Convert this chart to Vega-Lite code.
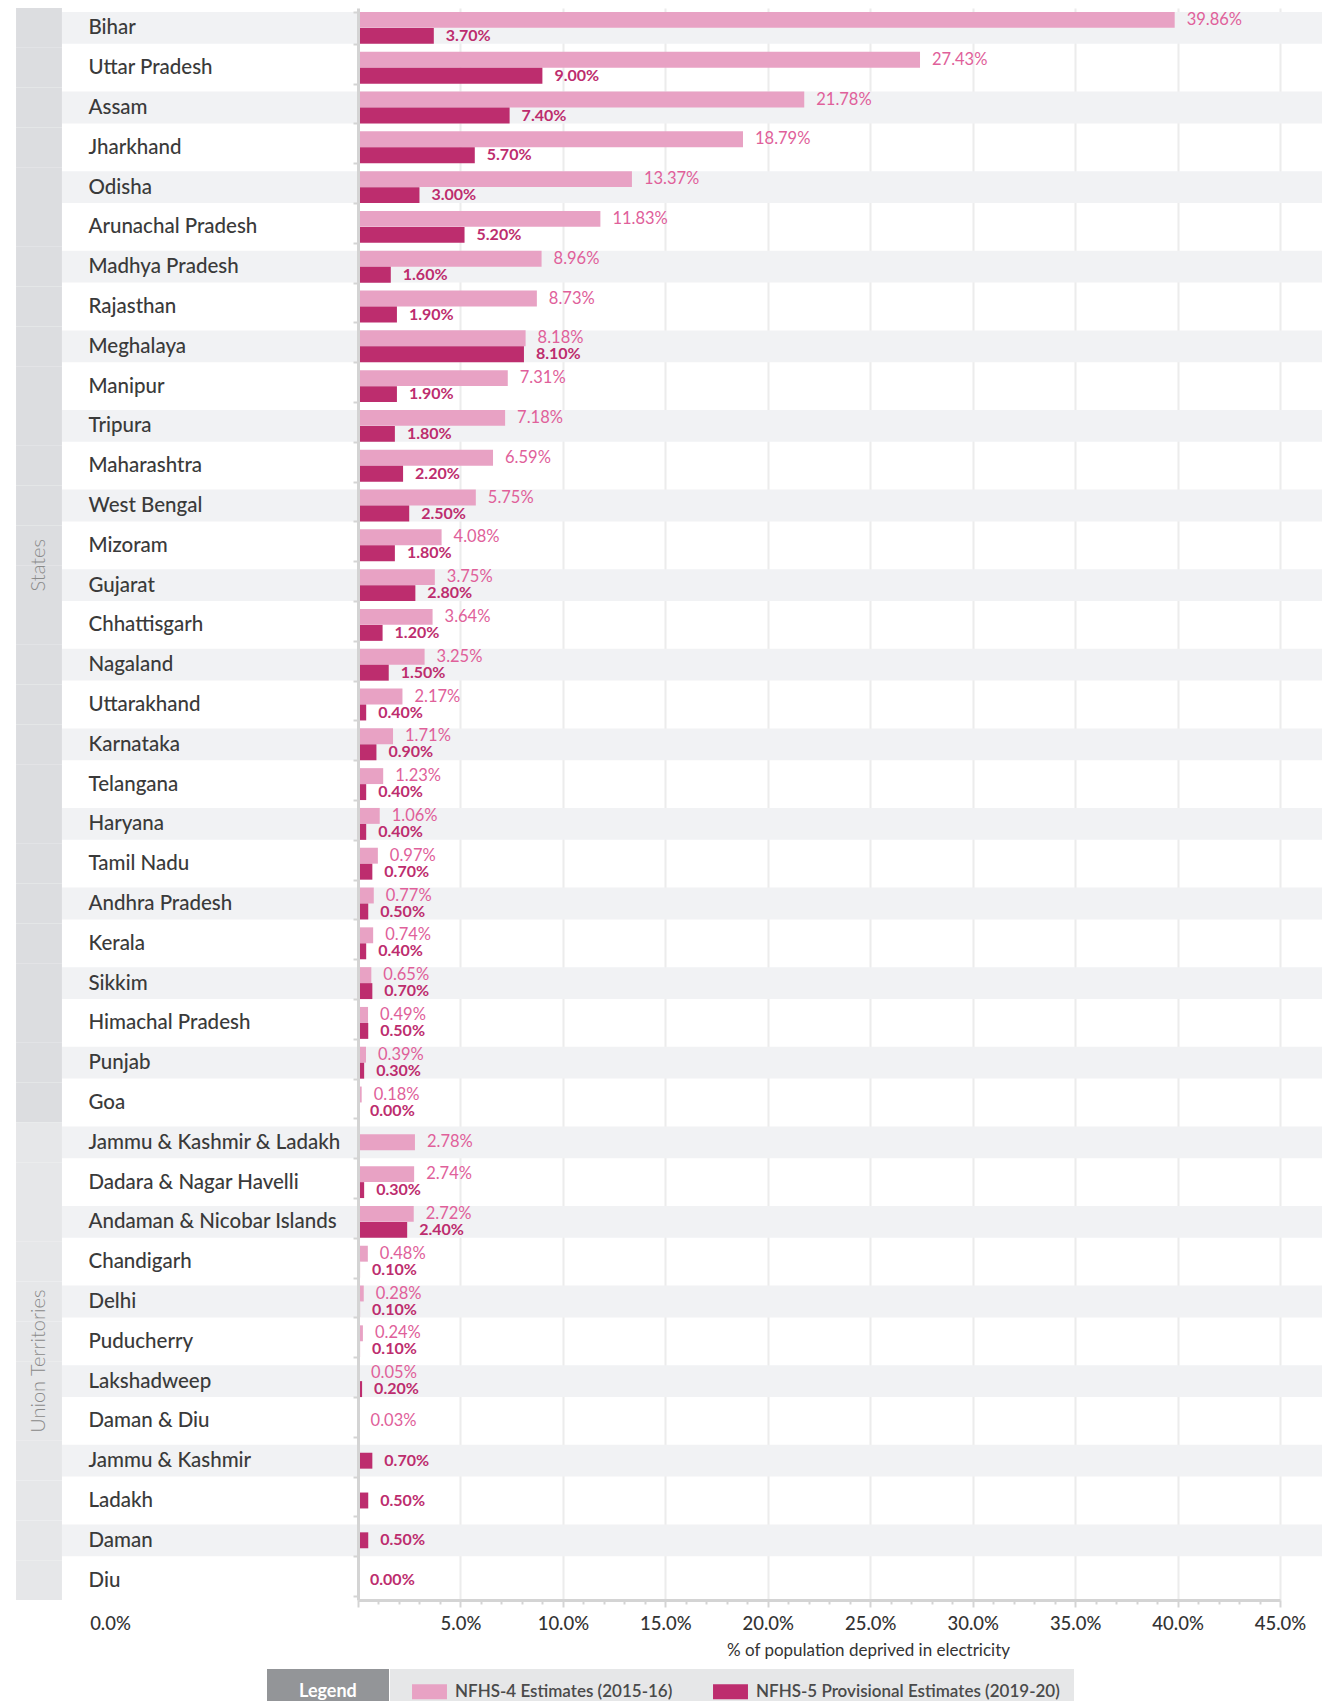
{
  "$schema": "https://vega.github.io/schema/vega-lite/v6.json",
  "width": 922,
  "height": 1592,
  "autosize": "none",
  "padding": {"left": 358, "top": 8, "right": 42, "bottom": 101},
  "background": "white",
  "config": {"view": {"stroke": null}, "font": "Lato"},
  "data": {"values": [
    {"region": "Bihar", "group": "States", "nfhs4": 0.3986, "nfhs5": 0.037},
    {"region": "Uttar Pradesh", "group": "States", "nfhs4": 0.2743, "nfhs5": 0.09},
    {"region": "Assam", "group": "States", "nfhs4": 0.2178, "nfhs5": 0.074},
    {"region": "Jharkhand", "group": "States", "nfhs4": 0.1879, "nfhs5": 0.057},
    {"region": "Odisha", "group": "States", "nfhs4": 0.1337, "nfhs5": 0.03},
    {"region": "Arunachal Pradesh", "group": "States", "nfhs4": 0.1183, "nfhs5": 0.052},
    {"region": "Madhya Pradesh", "group": "States", "nfhs4": 0.0896, "nfhs5": 0.016},
    {"region": "Rajasthan", "group": "States", "nfhs4": 0.0873, "nfhs5": 0.019},
    {"region": "Meghalaya", "group": "States", "nfhs4": 0.0818, "nfhs5": 0.081},
    {"region": "Manipur", "group": "States", "nfhs4": 0.0731, "nfhs5": 0.019},
    {"region": "Tripura", "group": "States", "nfhs4": 0.0718, "nfhs5": 0.018},
    {"region": "Maharashtra", "group": "States", "nfhs4": 0.0659, "nfhs5": 0.022},
    {"region": "West Bengal", "group": "States", "nfhs4": 0.0575, "nfhs5": 0.025},
    {"region": "Mizoram", "group": "States", "nfhs4": 0.0408, "nfhs5": 0.018},
    {"region": "Gujarat", "group": "States", "nfhs4": 0.0375, "nfhs5": 0.028},
    {"region": "Chhattisgarh", "group": "States", "nfhs4": 0.0364, "nfhs5": 0.012},
    {"region": "Nagaland", "group": "States", "nfhs4": 0.0325, "nfhs5": 0.015},
    {"region": "Uttarakhand", "group": "States", "nfhs4": 0.0217, "nfhs5": 0.004},
    {"region": "Karnataka", "group": "States", "nfhs4": 0.0171, "nfhs5": 0.009},
    {"region": "Telangana", "group": "States", "nfhs4": 0.0123, "nfhs5": 0.004},
    {"region": "Haryana", "group": "States", "nfhs4": 0.0106, "nfhs5": 0.004},
    {"region": "Tamil Nadu", "group": "States", "nfhs4": 0.0097, "nfhs5": 0.007},
    {"region": "Andhra Pradesh", "group": "States", "nfhs4": 0.0077, "nfhs5": 0.005},
    {"region": "Kerala", "group": "States", "nfhs4": 0.0074, "nfhs5": 0.004},
    {"region": "Sikkim", "group": "States", "nfhs4": 0.0065, "nfhs5": 0.007},
    {"region": "Himachal Pradesh", "group": "States", "nfhs4": 0.0049, "nfhs5": 0.005},
    {"region": "Punjab", "group": "States", "nfhs4": 0.0039, "nfhs5": 0.003},
    {"region": "Goa", "group": "States", "nfhs4": 0.0018, "nfhs5": 0.0},
    {"region": "Jammu & Kashmir & Ladakh", "group": "Union Territories", "nfhs4": 0.0278},
    {"region": "Dadara & Nagar Havelli", "group": "Union Territories", "nfhs4": 0.0274, "nfhs5": 0.003},
    {"region": "Andaman & Nicobar Islands", "group": "Union Territories", "nfhs4": 0.0272, "nfhs5": 0.024},
    {"region": "Chandigarh", "group": "Union Territories", "nfhs4": 0.0048, "nfhs5": 0.001},
    {"region": "Delhi", "group": "Union Territories", "nfhs4": 0.0028, "nfhs5": 0.001},
    {"region": "Puducherry", "group": "Union Territories", "nfhs4": 0.0024, "nfhs5": 0.001},
    {"region": "Lakshadweep", "group": "Union Territories", "nfhs4": 0.0005, "nfhs5": 0.002},
    {"region": "Daman & Diu", "group": "Union Territories", "nfhs4": 0.0003},
    {"region": "Jammu & Kashmir", "group": "Union Territories", "nfhs5": 0.007},
    {"region": "Ladakh", "group": "Union Territories", "nfhs5": 0.005},
    {"region": "Daman", "group": "Union Territories", "nfhs5": 0.005},
    {"region": "Diu", "group": "Union Territories", "nfhs5": 0.0}
  ]},
  "encoding": {
    "y": {
      "field": "region", "type": "nominal", "title": null,
      "scale": {
        "domain": ["Bihar", "Uttar Pradesh", "Assam", "Jharkhand", "Odisha", "Arunachal Pradesh", "Madhya Pradesh", "Rajasthan", "Meghalaya", "Manipur", "Tripura", "Maharashtra", "West Bengal", "Mizoram", "Gujarat", "Chhattisgarh", "Nagaland", "Uttarakhand", "Karnataka", "Telangana", "Haryana", "Tamil Nadu", "Andhra Pradesh", "Kerala", "Sikkim", "Himachal Pradesh", "Punjab", "Goa", "Jammu & Kashmir & Ladakh", "Dadara & Nagar Havelli", "Andaman & Nicobar Islands", "Chandigarh", "Delhi", "Puducherry", "Lakshadweep", "Daman & Diu", "Jammu & Kashmir", "Ladakh", "Daman", "Diu"],
        "paddingInner": 0.2, "paddingOuter": 0.1
      },
      "axis": {
        "zindex": 1, "domainColor": "#d4d4d4", "domainWidth": 3,
        "tickBand": "extent", "tickColor": "#d4d4d4", "tickWidth": 2, "tickSize": 5,
        "labelAlign": "left", "labelBaseline": "middle", "labelPadding": 265,
        "labelFont": "Lato", "labelFontSize": 20.5, "labelFontWeight": 500,
        "labelColor": "#3a3a3a", "labelLimit": 300, "title": null
      }
    }
  },
  "layer": [
    {
      "transform": [
        {"window": [{"op": "row_number", "as": "rn"}]},
        {"filter": "datum.rn % 2 == 1"}
      ],
      "mark": {"type": "rect", "color": "#f1f2f4"},
      "encoding": {
        "x": {"datum": -0.1445, "type": "quantitative", "title": "% of population deprived in electricity",
          "scale": {"domain": [0, 0.45], "nice": false}},
        "x2": {"datum": 0.4705}
      }
    },
    {
      "transform": [{"filter": "datum.group == 'States'"}],
      "mark": {"type": "bar", "color": "#dcdde0", "height": {"band": 1.25}},
      "encoding": {
        "x": {"datum": -0.1669, "type": "quantitative", "title": "% of population deprived in electricity"},
        "x2": {"datum": -0.1445}
      }
    },
    {
      "transform": [{"filter": "datum.group == 'Union Territories'"}],
      "mark": {"type": "bar", "color": "#e6e7e9", "height": {"band": 1.25}},
      "encoding": {
        "x": {"datum": -0.1669, "type": "quantitative", "title": "% of population deprived in electricity"},
        "x2": {"datum": -0.1445}
      }
    },
    {
      "transform": [{"filter": "datum.region == 'Mizoram' || datum.region == 'Puducherry'"}],
      "mark": {"type": "text", "angle": 270, "align": "center", "baseline": "middle", "font": "Lato", "fontSize": 20, "fontWeight": 300, "color": "#8a8a8a"},
      "encoding": {
        "x": {"datum": -0.1557, "type": "quantitative", "title": "% of population deprived in electricity"},
        "y": {"field": "region", "type": "nominal", "bandPosition": 1.125, "title": null},
        "text": {"field": "group"}
      }
    },
    {
      "transform": [
        {"fold": ["nfhs4", "nfhs5"]},
        {"filter": "isValid(datum.value)"},
        {"joinaggregate": [{"op": "count", "as": "n"}], "groupby": ["region"]}
      ],
      "layer": [
        {
          "transform": [{"filter": "datum.n == 2 && datum.key == 'nfhs4'"}],
          "mark": {"type": "bar", "height": {"band": 0.5}, "yOffset": -8},
          "encoding": {
            "x": {"field": "value", "type": "quantitative", "title": "% of population deprived in electricity",
              "axis": {
                "tickCount": 45,
                "labelExpr": "round(datum.value * 100) % 5 == 0 ? format(datum.value, '.1%') : ''",
                "labelOverlap": false, "labelFlush": false,
                "labelFont": "Lato", "labelFontSize": 18.5, "labelFontWeight": 500, "labelColor": "#333333",
                "labelPadding": 7,
                "labelOffset": {"condition": {"test": "datum.value == 0", "value": -248}, "value": 0},
                "tickSize": {"condition": {"test": "round(datum.value * 100) % 5 == 0", "value": 7}, "value": 4},
                "tickColor": "#d4d4d4", "tickWidth": 2,
                "domainColor": "#d4d4d4", "domainWidth": 3,
                "grid": true, "gridColor": "#ececec", "gridWidth": 2,
                "gridOpacity": {"condition": {"test": "round(datum.value * 100) % 5 == 0 && datum.value > 0", "value": 1}, "value": 0},
                "title": "% of population deprived in electricity",
                "titleFont": "Lato", "titleFontSize": 17, "titleFontWeight": "normal", "titleColor": "#333333",
                "titleX": 510, "titleY": 50, "titleAlign": "center", "titleBaseline": "middle"
              }
            },
            "color": {"field": "key", "type": "nominal",
              "scale": {"domain": ["nfhs4", "nfhs5"], "range": ["#e8a2c4", "#bd2d6e"]},
              "legend": {
                "orient": "none", "legendX": 32, "legendY": 1661, "direction": "horizontal",
                "fillColor": "#e6e7e8", "padding": 14, "title": null,
                "symbolType": "M-2.33,-1H2.33V1H-2.33Z", "symbolSize": 225, "symbolStrokeWidth": 0, "symbolOpacity": 1,
                "symbolOffset": 17, "labelOffset": 17, "columnPadding": 32,
                "labelExpr": "datum.label == 'nfhs4' ? 'NFHS-4 Estimates (2015-16)' : 'NFHS-5 Provisional Estimates (2019-20)'",
                "labelFont": "Lato", "labelFontSize": 17, "labelFontWeight": 600, "labelColor": "#4a4a4a", "labelLimit": 400
              }
            }
          }
        },
        {
          "transform": [{"filter": "datum.n == 2 && datum.key == 'nfhs5'"}],
          "mark": {"type": "bar", "height": {"band": 0.5}, "yOffset": 8},
          "encoding": {
            "x": {"field": "value", "type": "quantitative", "title": "% of population deprived in electricity"},
            "color": {"field": "key", "type": "nominal"}
          }
        },
        {
          "transform": [{"filter": "datum.n == 1"}],
          "mark": {"type": "bar", "height": {"band": 0.5}},
          "encoding": {
            "x": {"field": "value", "type": "quantitative", "title": "% of population deprived in electricity"},
            "color": {"field": "key", "type": "nominal"}
          }
        },
        {
          "transform": [{"filter": "datum.key == 'nfhs4'"}, {"filter": "datum.n == 2"}],
          "mark": {"type": "text", "align": "left", "baseline": "middle", "dx": 12, "yOffset": -8, "font": "Lato", "fontSize": 16.5, "color": "#e0609a"},
          "encoding": {
            "x": {"field": "value", "type": "quantitative", "title": "% of population deprived in electricity"},
            "text": {"field": "value", "format": ".2%"}
          }
        },
        {
          "transform": [{"filter": "datum.key == 'nfhs5'"}, {"filter": "datum.n == 2"}],
          "mark": {"type": "text", "align": "left", "baseline": "middle", "dx": 12, "yOffset": 8, "font": "Lato", "fontSize": 16, "fontWeight": "bold", "color": "#bd2d6e"},
          "encoding": {
            "x": {"field": "value", "type": "quantitative", "title": "% of population deprived in electricity"},
            "text": {"field": "value", "format": ".2%"}
          }
        },
        {
          "transform": [{"filter": "datum.key == 'nfhs4'"}, {"filter": "datum.n == 1"}],
          "mark": {"type": "text", "align": "left", "baseline": "middle", "dx": 12, "font": "Lato", "fontSize": 16.5, "color": "#e0609a"},
          "encoding": {
            "x": {"field": "value", "type": "quantitative", "title": "% of population deprived in electricity"},
            "text": {"field": "value", "format": ".2%"}
          }
        },
        {
          "transform": [{"filter": "datum.key == 'nfhs5'"}, {"filter": "datum.n == 1"}],
          "mark": {"type": "text", "align": "left", "baseline": "middle", "dx": 12, "font": "Lato", "fontSize": 16, "fontWeight": "bold", "color": "#bd2d6e"},
          "encoding": {
            "x": {"field": "value", "type": "quantitative", "title": "% of population deprived in electricity"},
            "text": {"field": "value", "format": ".2%"}
          }
        }
      ]
    },
    {
      "mark": {"type": "point", "opacity": 0},
      "encoding": {
        "shape": {"datum": "Legend",
          "scale": {"domain": ["Legend", "pad"], "range": ["square", "square"]},
          "legend": {
            "orient": "none", "legendX": -91, "legendY": 1661, "direction": "horizontal",
            "fillColor": "#939598", "padding": 14, "title": null,
            "symbolSize": 324, "symbolOpacity": 0, "symbolStrokeWidth": 0,
            "labelOffset": 0, "columnPadding": 0,
            "labelExpr": "datum.label == 'Legend' ? 'Legend' : ''",
            "labelFont": "Lato", "labelFontSize": 18, "labelFontWeight": "bold", "labelColor": "#ffffff"
          }
        }
      }
    }
  ]
}
